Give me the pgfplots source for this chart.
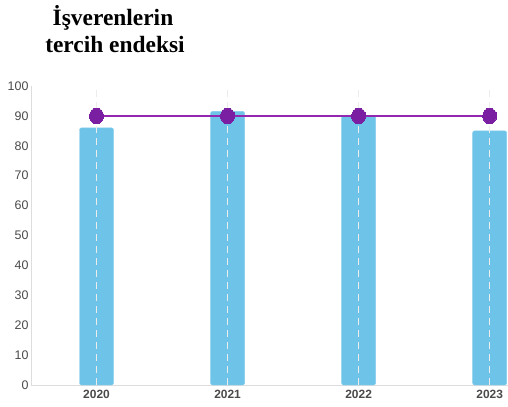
\documentclass[border=0pt]{standalone}
\usepackage{pgfplots}
\pgfplotsset{compat=1.18}
\usepackage{fontspec}
\setmainfont{Liberation Serif}
\newfontfamily\labelfont{Liberation Sans}
\definecolor{barblue}{HTML}{6EC4E8}
\definecolor{linepurple}{HTML}{9327B0}
\definecolor{markpurple}{HTML}{7B1FA2}
\definecolor{ticktext}{HTML}{4A4A4A}
\definecolor{axisgray}{HTML}{DDDDDD}
\begin{document}
\begin{tikzpicture}
\useasboundingbox (0,0) rectangle (508bp,407bp);
\node[font=\fontsize{23.5}{27}\selectfont\bfseries, anchor=base] at (113bp,381bp) {İşverenlerin};
\node[font=\fontsize{23.5}{27}\selectfont\bfseries, anchor=base] at (115bp,354bp) {tercih endeksi};
\begin{axis}[
  at={(31bp,22bp)}, anchor=south west,
  scale only axis, width=477bp, height=299bp,
  xmin=-0.5, xmax=3.14, ymin=0, ymax=100,
  xtick={0,1,2,3}, xticklabels={2020,2021,2022,2023},
  ytick={0,10,...,100},
  tick style={draw=none},
  axis line style={axisgray, line width=1pt},
  axis x line*=bottom, axis y line*=left,
  xmajorgrids, major x grid style={dash pattern=on 7bp off 5bp, color=gray!25, line width=0.8pt},
  ticklabel style={font=\labelfont\fontsize{12.5}{14}\selectfont, text=ticktext},
  xticklabel style={font=\labelfont\bfseries\fontsize{12}{14}\selectfont, yshift=-2bp},
  yticklabel style={xshift=1bp},
  /pgf/number format/assume math mode=true,
  clip=false,
]
\addplot[ybar, bar width=34bp, fill=barblue, draw=barblue!85!white, rounded corners=2bp] coordinates {(0,86) (1,91.5) (2,90) (3,85)};
\pgfplotsinvokeforeach{0,1,2,3}{
  \draw[dash pattern=on 7bp off 5bp, color=white!85!gray, line width=0.8pt] (axis cs:#1,0) -- (axis cs:#1,100);
}
\addplot[linepurple, line width=2.5pt, mark=*, mark size=7bp, mark options={fill=markpurple, draw=markpurple, line width=0pt, yscale=1.1}] coordinates {(0,90) (1,90) (2,90) (3,90)};
\end{axis}
\end{tikzpicture}
\end{document}
